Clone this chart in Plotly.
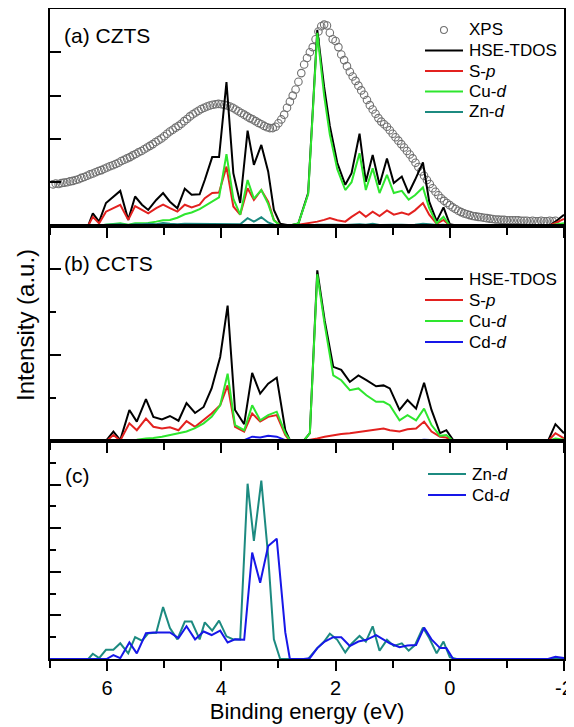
import plotly.graph_objects as go

FONT = "Liberation Sans, Arial, sans-serif"

# ---------------- XPS (panel a) ----------------
xps_energy = [6.95, 6.90, 6.85, 6.80, 6.75, 6.70, 6.65, 6.60, 6.55, 6.50, 6.45, 6.40, 6.35, 6.30,
              6.25, 6.20, 6.15, 6.10, 6.05, 6.00, 5.95, 5.90, 5.85, 5.80, 5.75, 5.70, 5.65, 5.60,
              5.55, 5.50, 5.45, 5.40, 5.35, 5.30, 5.25, 5.20, 5.15, 5.10, 5.05, 5.00, 4.95, 4.90,
              4.85, 4.80, 4.75, 4.70, 4.65, 4.60, 4.55, 4.50, 4.45, 4.40, 4.35, 4.30, 4.25, 4.20,
              4.15, 4.10, 4.05, 4.00, 3.95, 3.90, 3.85, 3.80, 3.75, 3.70, 3.65, 3.60, 3.55, 3.50,
              3.45, 3.40, 3.35, 3.30, 3.25, 3.20, 3.15, 3.10, 3.05, 3.00, 2.95, 2.90, 2.85, 2.80,
              2.75, 2.70, 2.65, 2.60, 2.55, 2.50, 2.45, 2.40, 2.35, 2.30, 2.25, 2.20, 2.15, 2.10,
              2.05, 2.00, 1.95, 1.90, 1.85, 1.80, 1.75, 1.70, 1.65, 1.60, 1.55, 1.50, 1.45, 1.40,
              1.35, 1.30, 1.25, 1.20, 1.15, 1.10, 1.05, 1.00, 0.95, 0.90, 0.85, 0.80, 0.75, 0.70,
              0.65, 0.60, 0.55, 0.50, 0.45, 0.40, 0.35, 0.30, 0.25, 0.20, 0.15, 0.10, 0.05, 0.00,
              -0.05, -0.10, -0.15, -0.20, -0.25, -0.30, -0.35, -0.40, -0.45, -0.50, -0.55, -0.60,
              -0.65, -0.70, -0.75, -0.80, -0.85, -0.90, -0.95, -1.00, -1.05, -1.10, -1.15, -1.20,
              -1.25, -1.30, -1.35, -1.40, -1.45, -1.50, -1.55, -1.60, -1.65, -1.70, -1.75, -1.80,
              -1.85]
xps_intensity = [0.95, 0.97, 0.96, 0.98, 0.99, 1.00, 1.02, 1.03, 1.05, 1.07, 1.10, 1.12, 1.15, 1.18,
                 1.20, 1.23, 1.26, 1.28, 1.31, 1.34, 1.37, 1.39, 1.42, 1.45, 1.49, 1.52, 1.55, 1.58,
                 1.62, 1.65, 1.69, 1.72, 1.76, 1.80, 1.84, 1.88, 1.93, 1.97, 2.01, 2.06, 2.12, 2.17,
                 2.21, 2.26, 2.30, 2.35, 2.41, 2.46, 2.52, 2.57, 2.61, 2.65, 2.69, 2.72, 2.75, 2.77,
                 2.79, 2.80, 2.81, 2.80, 2.79, 2.77, 2.75, 2.72, 2.68, 2.64, 2.60, 2.56, 2.52, 2.48,
                 2.45, 2.41, 2.37, 2.34, 2.30, 2.27, 2.25, 2.25, 2.28, 2.36, 2.45, 2.56, 2.72, 2.86,
                 3.00, 3.14, 3.32, 3.52, 3.72, 3.87, 4.00, 4.12, 4.30, 4.48, 4.60, 4.64, 4.62, 4.45,
                 4.30, 4.26, 4.12, 3.95, 3.82, 3.68, 3.55, 3.44, 3.34, 3.23, 3.12, 3.02, 2.90, 2.78,
                 2.68, 2.58, 2.48, 2.40, 2.34, 2.28, 2.20, 2.12, 2.04, 1.96, 1.88, 1.80, 1.72, 1.64,
                 1.55, 1.45, 1.35, 1.25, 1.15, 1.05, 0.96, 0.86, 0.78, 0.70, 0.63, 0.57, 0.52, 0.47,
                 0.42, 0.38, 0.34, 0.31, 0.28, 0.26, 0.24, 0.22, 0.21, 0.20, 0.19, 0.18,
                 0.17, 0.16, 0.15, 0.14, 0.14, 0.13, 0.13, 0.12, 0.12, 0.12, 0.12, 0.12,
                 0.11, 0.11, 0.11, 0.10, 0.11, 0.10, 0.10, 0.11, 0.10, 0.10, 0.11, 0.10,
                 0.11]

# ---------------- CZTS DOS (panel a) + Zn-d (panel c) ----------------
energy_a = [7.00, 6.45, 6.33, 6.25, 6.14, 6.02, 5.89, 5.77, 5.63, 5.51, 5.39, 5.28, 5.14, 5.02,
            4.90, 4.77, 4.64, 4.52, 4.38, 4.29, 4.16, 4.04, 3.91, 3.79, 3.67, 3.54, 3.43, 3.30,
            3.18, 3.08, 2.97, 2.80, 2.65, 2.48, 2.32, 2.20, 2.10, 1.97, 1.83, 1.72, 1.58, 1.47,
            1.35, 1.23, 1.10, 0.98, 0.84, 0.72, 0.61, 0.47, 0.36, 0.23, 0.11, 0.00, -0.12,
            -1.75, -1.88, -2.00]
czts_tdos = [0, 0, 0, 0.28, 0.09, 0.52, 0.67, 0.80, 0.13, 0.67, 0.48, 0.36, 0.59, 0.75,
             0.55, 0.40, 0.85, 0.71, 0.72, 1.05, 1.58, 1.58, 3.31, 1.21, 0.52, 2.19, 1.40, 1.86,
             1.25, 0.36, 0.04, 0.0, 0.05, 0.75, 4.52, 3.20, 2.30, 1.45, 0.94, 1.21, 2.12, 1.01,
             1.63, 0.94, 1.55, 0.98, 1.13, 0.75, 1.05, 1.46, 0.55, 0.10, 0.42, 0.03, 0.0,
             0.0, 0.12, 0.25]
czts_sp = [0, 0, 0, 0.20, 0.05, 0.32, 0.40, 0.48, 0.13, 0.45, 0.36, 0.28, 0.40, 0.48,
           0.40, 0.32, 0.48, 0.42, 0.48, 0.63, 0.75, 0.76, 1.36, 0.44, 0.25, 0.86, 0.59, 0.82,
           0.55, 0.13, 0.0, 0.0, 0.02, 0.05, 0.09, 0.13, 0.17, 0.12, 0.09, 0.20, 0.32, 0.20,
           0.32, 0.22, 0.35, 0.25, 0.30, 0.25, 0.35, 0.52, 0.25, 0.04, 0.13, 0.0, 0.0,
           0.0, 0.08, 0.15]
czts_cud = [0, 0, 0, 0.01, 0.0, 0.02, 0.03, 0.05, 0.02, 0.05, 0.05, 0.06, 0.09, 0.12,
            0.13, 0.18, 0.26, 0.30, 0.38, 0.45, 0.55, 0.65, 1.65, 0.62, 0.25, 1.05, 0.62, 0.82,
            0.50, 0.12, 0.0, 0.0, 0.05, 0.72, 4.45, 3.00, 2.10, 1.30, 0.82, 1.00, 1.67, 0.82,
            1.32, 0.75, 1.17, 0.75, 0.80, 0.60, 0.70, 0.88, 0.40, 0.05, 0.20, 0.0, 0.0,
            0.0, 0.03, 0.05]
czts_znd = [0, 0, 0, 0.01, 0.0, 0.02, 0.02, 0.03, 0.01, 0.03, 0.03, 0.04, 0.03, 0.06,
            0.04, 0.03, 0.04, 0.04, 0.03, 0.04, 0.03, 0.04, 0.03, 0.03, 0.03, 0.17, 0.09, 0.19,
            0.07, 0.02, 0.0, 0.0, 0.0, 0.0, 0.02, 0.02, 0.03, 0.02, 0.01, 0.02, 0.03, 0.02,
            0.04, 0.01, 0.02, 0.02, 0.02, 0.01, 0.02, 0.04, 0.03, 0.01, 0.02, 0.0, 0.0,
            0.0, 0.0, 0.0]
znd_scaled = [0, 0, 0, 0.12, 0.02, 0.21, 0.21, 0.36, 0.13, 0.50, 0.42, 0.59, 0.60, 1.19,
              0.71, 0.45, 0.86, 0.86, 0.45, 0.84, 0.65, 0.88, 0.52, 0.45, 0.45, 4.02, 2.71, 4.09,
              2.36, 0.45, 0.0, 0.0, 0.0, 0.0, 0.25, 0.40, 0.58, 0.44, 0.15, 0.35, 0.53, 0.40,
              0.75, 0.19, 0.44, 0.30, 0.36, 0.19, 0.32, 0.72, 0.48, 0.13, 0.40, 0.04, 0.0,
              0.0, 0.0, 0.0]

# ---------------- CCTS DOS (panel b) + Cd-d (panel c) ----------------
energy_b = [7.00, 6.10, 6.01, 5.89, 5.77, 5.61, 5.48, 5.32, 5.19, 5.04, 4.90, 4.75, 4.61, 4.46,
            4.31, 4.17, 4.02, 3.89, 3.76, 3.60, 3.46, 3.32, 3.18, 3.03, 2.88, 2.80, 2.56, 2.45,
            2.32, 2.19, 2.04, 1.90, 1.75, 1.60, 1.46, 1.29, 1.16, 1.05, 0.88, 0.74, 0.59, 0.45,
            0.32, 0.17, 0.06, -0.06, -1.72, -1.85, -2.00]
ccts_tdos = [0, 0, 0.02, 0.22, 0.02, 0.72, 0.45, 0.97, 0.56, 0.50, 0.58, 0.47, 0.88, 0.65,
             0.79, 1.22, 1.95, 3.14, 0.72, 0.39, 1.58, 1.10, 1.33, 1.47, 0.25, 0.02, 0.0, 0.18,
             3.96, 2.79, 1.72, 1.65, 1.37, 1.52, 1.41, 1.27, 1.29, 1.22, 0.72, 0.95, 0.75, 1.35,
             0.72, 0.18, 0.25, 0.02, 0.0, 0.39, 0.18]
ccts_sp = [0, 0, 0.0, 0.14, 0.01, 0.41, 0.25, 0.52, 0.33, 0.29, 0.32, 0.25, 0.46, 0.33,
           0.48, 0.64, 0.83, 1.29, 0.33, 0.22, 0.64, 0.45, 0.56, 0.60, 0.14, 0.0, 0.0, 0.02,
           0.06, 0.10, 0.14, 0.16, 0.18, 0.21, 0.24, 0.27, 0.29, 0.25, 0.22, 0.27, 0.29, 0.45,
           0.22, 0.10, 0.08, 0.0, 0.0, 0.18, 0.06]
ccts_cud = [0, 0, 0.0, 0.01, 0.01, 0.02, 0.03, 0.06, 0.07, 0.10, 0.13, 0.18, 0.22, 0.30,
            0.41, 0.56, 0.83, 1.56, 0.37, 0.25, 0.83, 0.48, 0.60, 0.68, 0.18, 0.02, 0.0, 0.18,
            3.87, 2.70, 1.52, 1.41, 1.18, 1.22, 1.06, 0.91, 0.91, 0.83, 0.48, 0.60, 0.48, 0.75,
            0.37, 0.12, 0.14, 0.0, 0.0, 0.06, 0.03]
ccts_cdd = [0, 0, 0.0, 0.01, 0.0, 0.01, 0.01, 0.02, 0.01, 0.02, 0.02, 0.01, 0.02, 0.01,
            0.02, 0.01, 0.02, 0.01, 0.02, 0.02, 0.10, 0.08, 0.12, 0.10, 0.02, 0.0, 0.0, 0.0,
            0.01, 0.02, 0.02, 0.02, 0.01, 0.02, 0.02, 0.02, 0.02, 0.01, 0.01, 0.01, 0.01, 0.03,
            0.02, 0.01, 0.01, 0.0, 0.0, 0.02, 0.01]
cdd_scaled = [0, 0, 0.0, 0.09, 0.02, 0.38, 0.13, 0.59, 0.61, 0.61, 0.61, 0.48, 0.75, 0.45,
              0.63, 0.55, 0.65, 0.38, 0.45, 0.44, 2.44, 1.75, 2.59, 2.76, 0.61, 0.0, 0.0, 0.02,
              0.25, 0.40, 0.50, 0.50, 0.30, 0.40, 0.44, 0.55, 0.45, 0.36, 0.27, 0.31, 0.32, 0.72,
              0.45, 0.25, 0.25, 0.0, 0.0, 0.05, 0.02]

x_range = [7, -2]
x_tickvals = [6, 4, 2, 0, -2]
x_ticktext = ["6", "4", "2", "0", "-2"]

BLACK = "#000000"
RED = "#e3211f"
GREEN = "#2ee62e"
TEAL = "#1c8a80"
BLUE = "#1717e8"
XPS_GRAY = "#707070"
LW = 2

fig = go.Figure()

# panel (a)
fig.add_trace(go.Scatter(x=xps_energy, y=xps_intensity, mode="markers", name="XPS",
                         marker=dict(symbol="circle-open", size=7.5, color=XPS_GRAY, line=dict(width=1.1)),
                         xaxis="x", yaxis="y"))
fig.add_trace(go.Scatter(x=energy_a, y=czts_tdos, mode="lines", name="HSE-TDOS",
                         line=dict(color=BLACK, width=LW), xaxis="x", yaxis="y"))
fig.add_trace(go.Scatter(x=energy_a, y=czts_sp, mode="lines", name="S-p",
                         line=dict(color=RED, width=LW), xaxis="x", yaxis="y"))
fig.add_trace(go.Scatter(x=energy_a, y=czts_cud, mode="lines", name="Cu-d",
                         line=dict(color=GREEN, width=LW), xaxis="x", yaxis="y"))
fig.add_trace(go.Scatter(x=energy_a, y=czts_znd, mode="lines", name="Zn-d",
                         line=dict(color=TEAL, width=LW), xaxis="x", yaxis="y"))

# panel (b)
fig.add_trace(go.Scatter(x=energy_b, y=ccts_tdos, mode="lines", name="HSE-TDOS",
                         line=dict(color=BLACK, width=LW), xaxis="x2", yaxis="y2"))
fig.add_trace(go.Scatter(x=energy_b, y=ccts_sp, mode="lines", name="S-p",
                         line=dict(color=RED, width=LW), xaxis="x2", yaxis="y2"))
fig.add_trace(go.Scatter(x=energy_b, y=ccts_cud, mode="lines", name="Cu-d",
                         line=dict(color=GREEN, width=LW), xaxis="x2", yaxis="y2"))
fig.add_trace(go.Scatter(x=energy_b, y=ccts_cdd, mode="lines", name="Cd-d",
                         line=dict(color=BLUE, width=LW), xaxis="x2", yaxis="y2"))

# panel (c)
fig.add_trace(go.Scatter(x=energy_a, y=znd_scaled, mode="lines", name="Zn-d",
                         line=dict(color=TEAL, width=LW), xaxis="x3", yaxis="y3"))
fig.add_trace(go.Scatter(x=energy_b, y=cdd_scaled, mode="lines", name="Cd-d",
                         line=dict(color=BLUE, width=LW), xaxis="x3", yaxis="y3"))

xcommon = dict(range=x_range, showline=True, mirror=True, linecolor="black", linewidth=2,
               ticks="outside", ticklen=10, tickwidth=2, tickcolor="black",
               tickvals=x_tickvals, ticktext=x_ticktext, showgrid=False, zeroline=False,
               automargin=False,
               minor=dict(dtick=1, tick0=0, ticks="outside", ticklen=7, tickwidth=2, tickcolor="black"),
               tickfont=dict(family=FONT, size=20, color="black"))
ycommon = dict(range=[0, 5], showline=True, mirror=True, linecolor="black", linewidth=2,
               ticks="inside", ticklen=11, tickwidth=2, tickcolor="black", showticklabels=False,
               showgrid=False, zeroline=False, automargin=False)

dom_c = [0.0, 0.3354]
dom_b = [0.3354, 0.6669]
dom_a = [0.6669, 1.0]

# The page body adds an 8 px offset; figure is sized so the plot area lands
# at screen pixels x 50..564, y 9..659.
fig.update_layout(
    width=566, height=719,
    margin=dict(l=42, r=10, t=1, b=68),
    plot_bgcolor="white", paper_bgcolor="white",
    font=dict(family=FONT, color="black"),
    showlegend=False,
    xaxis=dict(xcommon, anchor="y", showticklabels=False),
    xaxis2=dict(xcommon, anchor="y2", matches="x", showticklabels=False),
    xaxis3=dict(xcommon, anchor="y3", matches="x", showticklabels=True,
                title=dict(text="Binding energy (eV)", font=dict(family=FONT, size=22), standoff=4)),
    yaxis=dict(ycommon, domain=dom_a, anchor="x", tickvals=[1, 2, 3, 4]),
    yaxis2=dict(ycommon, domain=dom_b, anchor="x2", tickvals=[2, 4],
                minor=dict(tickvals=[1, 3], ticks="inside", ticklen=6, tickwidth=2, tickcolor="black")),
    yaxis3=dict(ycommon, domain=dom_c, anchor="x3", tickvals=[1, 2, 3, 4],
                minor=dict(dtick=0.5, tick0=0, ticks="inside", ticklen=6, tickwidth=2, tickcolor="black")),
)

# helpers to place decorations at screen pixel positions of the plot area
PX0, PX1, PY0, PY1 = 50.0, 564.0, 9.0, 659.0


def px(xp):
    return (xp - PX0) / (PX1 - PX0)


def py(yp):
    return (PY1 - yp) / (PY1 - PY0)


annots = [
    dict(text="(a) CZTS", x=px(62), y=py(35), xanchor="left", yanchor="middle", size=21),
    dict(text="(b) CCTS", x=px(62), y=py(263), xanchor="left", yanchor="middle", size=21),
    dict(text="(c)", x=px(63), y=py(475), xanchor="left", yanchor="middle", size=21),
]
annotations = []
for a in annots:
    annotations.append(dict(text=a["text"], x=a["x"], y=a["y"], xref="paper", yref="paper",
                            xanchor=a["xanchor"], yanchor=a["yanchor"], showarrow=False,
                            font=dict(family=FONT, size=a["size"], color="black")))
annotations.append(dict(text="Intensity (a.u.)", x=px(25), y=py(325), xref="paper", yref="paper",
                        xanchor="center", yanchor="middle", textangle=-90, showarrow=False,
                        font=dict(family=FONT, size=24, color="black")))

# custom legends (label, colour, kind)
legend_a = [("XPS", XPS_GRAY, "marker"), ("HSE-TDOS", BLACK, "line"), ("S-<i>p</i>", RED, "line"),
            ("Cu-<i>d</i>", GREEN, "line"), ("Zn-<i>d</i>", TEAL, "line")]
legend_b = [("HSE-TDOS", BLACK, "line"), ("S-<i>p</i>", RED, "line"),
            ("Cu-<i>d</i>", GREEN, "line"), ("Cd-<i>d</i>", BLUE, "line")]
legend_c = [("Zn-<i>d</i>", TEAL, "line"), ("Cd-<i>d</i>", BLUE, "line")]

shapes = []


def add_legend(items, x_line0, y_first, step):
    for i, (label, color, kind) in enumerate(items):
        yy = y_first + i * step
        if kind == "line":
            shapes.append(dict(type="line", xref="paper", yref="paper",
                               x0=px(x_line0), x1=px(x_line0 + 38), y0=py(yy), y1=py(yy),
                               line=dict(color=color, width=2)))
        else:
            shapes.append(dict(type="circle", xref="paper", yref="paper",
                               xsizemode="pixel", ysizemode="pixel",
                               xanchor=px(x_line0 + 19), yanchor=py(yy),
                               x0=-3.5, x1=3.5, y0=-3.5, y1=3.5,
                               line=dict(color=color, width=1.1)))
        annotations.append(dict(text=label, x=px(x_line0 + 42), y=py(yy), xref="paper", yref="paper",
                                xanchor="left", yanchor="middle", showarrow=False,
                                font=dict(family=FONT, size=17, color="black")))


add_legend(legend_a, 425, 30, 20.5)
add_legend(legend_b, 425, 279, 21)
add_legend(legend_c, 428, 474, 21)

fig.update_layout(annotations=annotations, shapes=shapes)

fig.write_html("out.html")
